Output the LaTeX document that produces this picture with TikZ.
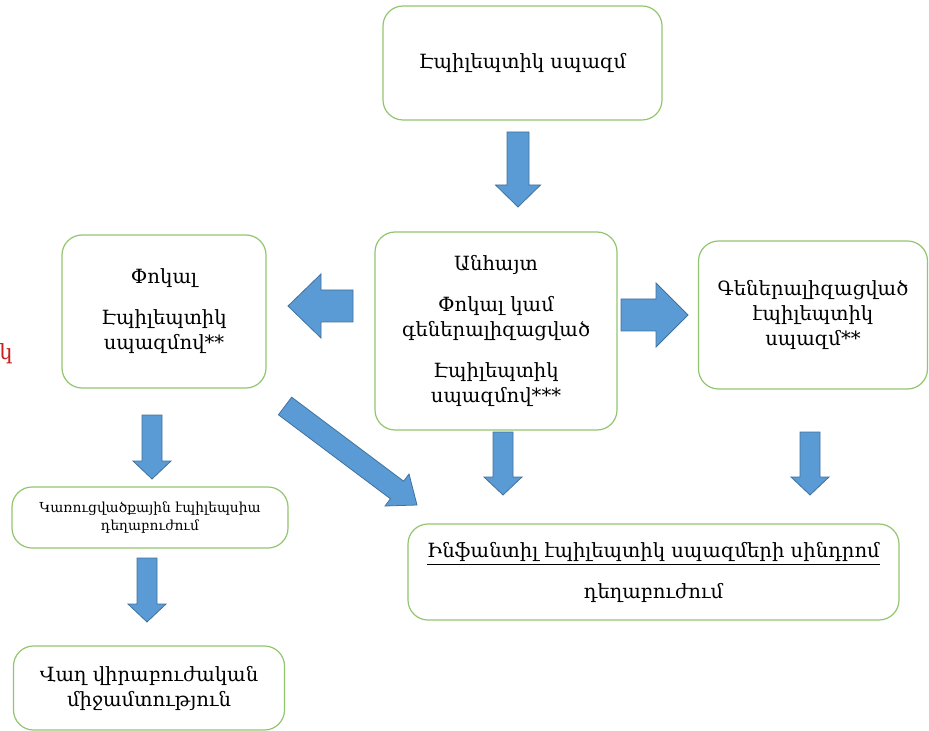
\documentclass[tikz,border=0pt]{standalone}
\usepackage{fontspec}
\setmainfont{DejaVu Serif}
\usetikzlibrary{calc}

\definecolor{boxgreen}{RGB}{146,198,110}
\definecolor{arrowblue}{RGB}{91,155,213}
\definecolor{arrowedge}{RGB}{65,113,156}
\definecolor{notered}{RGB}{200,30,30}

\begin{document}
\begin{tikzpicture}[x=0.5pt, y=-0.5pt,
			% Define styles for boxes and block arrows
			box/.style={draw=boxgreen, line width=0.6pt, rounded corners=10pt, fill=white, align=center, inner sep=0pt, font=\fontsize{9.8}{12.5}\selectfont},
			barrow/.style n args={3}{draw=arrowedge, fill=arrowblue, line width=0.4pt, line join=miter,
				to path={($(\tikztostart)!#1!90:(\tikztotarget)$)
					-- ($($(\tikztotarget)!#3!(\tikztostart)$)!#1!90:(\tikztotarget)$)
					-- ($($(\tikztotarget)!#3!(\tikztostart)$)!#2!90:(\tikztotarget)$)
					-- (\tikztotarget)
					-- ($($(\tikztotarget)!#3!(\tikztostart)$)!#2!-90:(\tikztotarget)$)
					-- ($($(\tikztotarget)!#3!(\tikztostart)$)!#1!-90:(\tikztotarget)$)
					-- ($(\tikztostart)!#1!-90:(\tikztotarget)$) -- cycle}},
			vbarrow/.style={barrow={5pt}{9.5pt}{9pt}}
		]
		\useasboundingbox (0,0) rectangle (929,731);

		% Top box
		\node[box, minimum width=139.5pt, minimum height=57pt] (spasm) at (522.5,63) {Էպիլեպտիկ սպազմ};
		% Middle row
		\node[box, minimum width=121pt, minimum height=99pt] (unknown) at (496,331)
			{Անհայտ\\[8pt] Փոկալ կամ\\ գեներալիզացված\\[8pt] Էպիլեպտիկ\\ սպազմով***};
		\node[box, minimum width=102pt, minimum height=76.5pt] (focal) at (164,311.5)
			{Փոկալ\\[8pt] Էպիլեպտիկ\\ սպազմով**};
		\node[box, minimum width=114.5pt, minimum height=74pt] (general) at (813,315)
			{Գեներալիզացված\\ էպիլեպտիկ\\ սպազմ**};
		% Bottom row
		\node[box, minimum width=138pt, minimum height=30.5pt, font=\fontsize{6.9}{9}\selectfont] (structural) at (150,517.5)
			{Կառուցվածքային էպիլեպսիա\\ դեղաբուժում};
		\node[box, minimum width=135.5pt, minimum height=42pt] (surgery) at (149,688)
			{Վաղ վիրաբուժական\\ միջամտություն};
		\node[box, minimum width=245.5pt, minimum height=48pt] (syndrome) at (653.5,572)
			{\underline{Ինֆանտիլ էպիլեպտիկ սպազմերի սինդրոմ}\\[8pt] դեղաբուժում};
		% Cut-off note
		\node[text=notered, font=\fontsize{10.5}{12.5}\selectfont] (note) at (6,354) {կ};

		% Arrow ends
		\coordinate (a1s) at (518,132);  \coordinate (a1e) at (518,207);
		\coordinate (a2s) at (353,306);  \coordinate (a2e) at (288,306);
		\coordinate (a3s) at (621,315);  \coordinate (a3e) at (688,315);
		\coordinate (a4s) at (503,432);  \coordinate (a4e) at (503,495);
		\coordinate (a5s) at (285,406);  \coordinate (a5e) at (417,505);
		\coordinate (a6s) at (152,415);  \coordinate (a6e) at (152,479);
		\coordinate (a7s) at (147,558);  \coordinate (a7e) at (147,622);
		\coordinate (a8s) at (810,432);  \coordinate (a8e) at (810,495);

		% Block arrows
		\draw[barrow={5.5pt}{11.25pt}{11pt}] (a1s) to (a1e);
		\draw[barrow={8pt}{16pt}{16.5pt}] (a2s) to (a2e);
		\draw[barrow={8pt}{16pt}{16pt}] (a3s) to (a3e);
		\draw[vbarrow] (a4s) to (a4e);
		\draw[barrow={5.5pt}{10pt}{12.5pt}] (a5s) to (a5e);
		\draw[vbarrow] (a6s) to (a6e);
		\draw[vbarrow] (a7s) to (a7e);
		\draw[vbarrow] (a8s) to (a8e);
	\end{tikzpicture}
\end{document}
